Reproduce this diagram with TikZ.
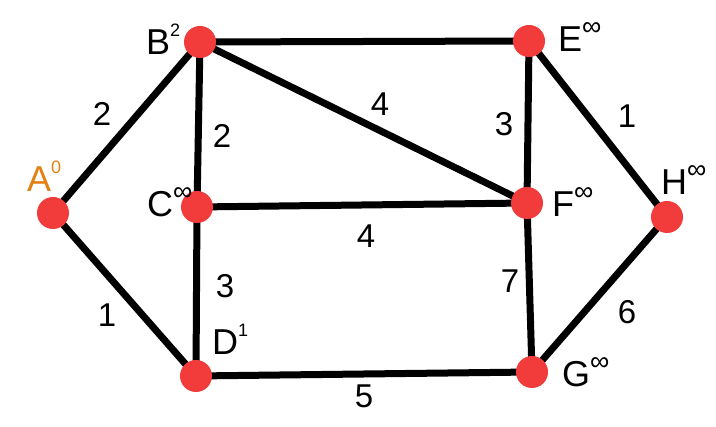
\documentclass[tikz,border=0pt]{standalone}
\usepackage{fontspec}
\setmainfont{Liberation Sans}
\usepackage{xcolor}
\usetikzlibrary{backgrounds}
\definecolor{vred}{RGB}{242,59,59}
\definecolor{vorange}{RGB}{226,128,18}
\newcommand{\dist}[1]{\raisebox{0.5em}{\fontsize{18}{18}\selectfont #1}}
\newcommand{\unreached}{\raisebox{0.45em}{\fontsize{27}{27}\selectfont ∞}}
\begin{document}
\begin{tikzpicture}[x=1pt,y=-1pt,
  vertex/.style={circle,fill=vred,inner sep=0pt,minimum size=32pt},
  edge/.style={line width=7pt},
  vlabel/.style={anchor=base west,inner sep=0pt,font=\fontsize{36}{40}\selectfont},
  weight/.style={inner sep=0pt,font=\fontsize{33}{36}\selectfont}]
  \useasboundingbox (0,0) rectangle (716,427);
  \node[vertex] (A) at (53,213) {};
  \node[vertex] (B) at (200,42) {};
  \node[vertex] (C) at (197,207) {};
  \node[vertex] (D) at (196,376) {};
  \node[vertex] (E) at (529,41) {};
  \node[vertex] (F) at (527,203) {};
  \node[vertex] (G) at (532,372) {};
  \node[vertex] (H) at (667,217) {};
  \begin{scope}[on background layer]
    \draw[edge] (A.center) -- (B.center);
    \draw[edge] (A.center) -- (D.center);
    \draw[edge] (B.center) -- (E.center);
    \draw[edge] (B.center) -- (C.center);
    \draw[edge] (B.center) -- (F.center);
    \draw[edge] (C.center) -- (F.center);
    \draw[edge] (C.center) -- (D.center);
    \draw[edge] (D.center) -- (G.center);
    \draw[edge] (E.center) -- (F.center);
    \draw[edge] (E.center) -- (H.center);
    \draw[edge] (F.center) -- (G.center);
    \draw[edge] (G.center) -- (H.center);
  \end{scope}
  \node[vlabel,text=vorange] (lA) at (27,192) {A\dist{0}};
  \node[vlabel] (lB) at (146,55) {B\dist{2}};
  \node[vlabel] (lC) at (147,217) {C\unreached};
  \node[vlabel] (lD) at (212,355) {D\dist{1}};
  \node[vlabel] (lE) at (558,52) {E\unreached};
  \node[vlabel] (lF) at (552,217) {F\unreached};
  \node[vlabel] (lG) at (562,387) {G\unreached};
  \node[vlabel] (lH) at (661,195) {H\unreached};
  \node[weight] (wAB) at (102,114) {2};
  \node[weight] (wBC) at (222,136) {2};
  \node[weight] (wBF) at (380,104) {4};
  \node[weight] (wEF) at (504,124) {3};
  \node[weight] (wEH) at (627,116) {1};
  \node[weight] (wCF) at (366,236) {4};
  \node[weight] (wCD) at (225,286) {3};
  \node[weight] (wFG) at (510,281) {7};
  \node[weight] (wAD) at (107,315) {1};
  \node[weight] (wGH) at (627,312) {6};
  \node[weight] (wDG) at (364,396) {5};
\end{tikzpicture}
\end{document}
